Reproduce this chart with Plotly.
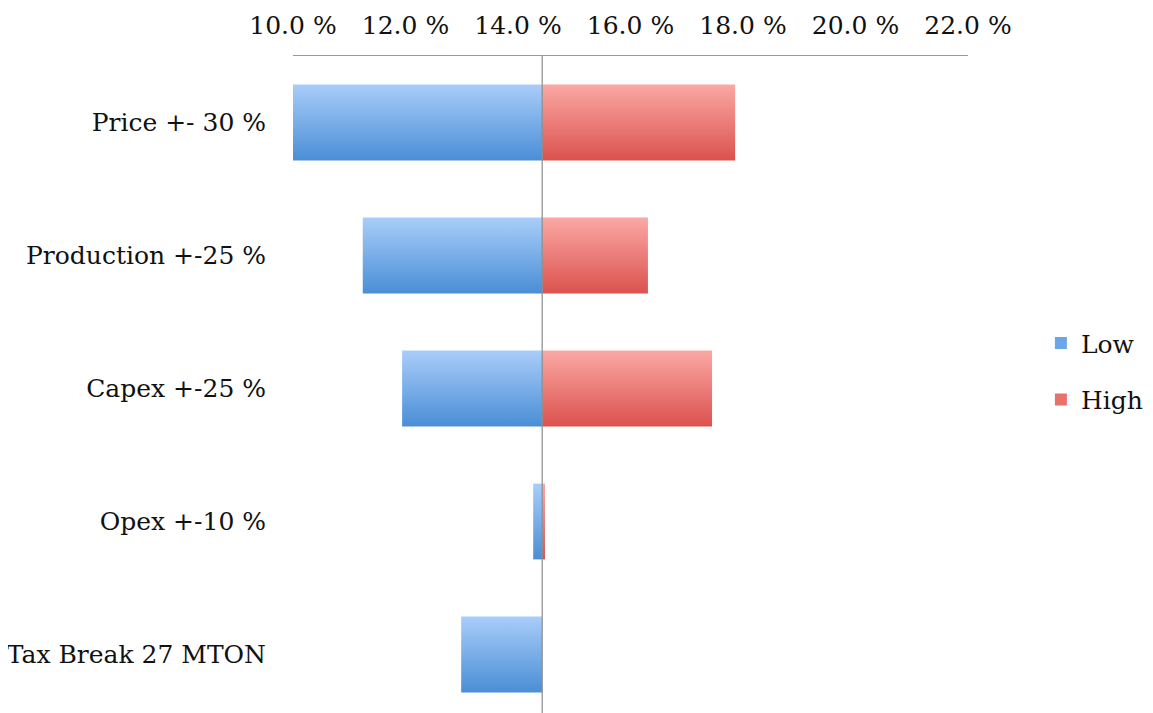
import plotly.graph_objects as go

# tornado data (IRR, %)
categories = ["Price +- 30 %", "Production +-25 %", "Capex +-25 %", "Opex +-10 %", "Tax Break 27 MTON"]
base_case = 14.43
low_values = [10.0, 11.24, 11.94, 14.27, 12.99]
high_values = [17.86, 16.31, 17.45, 14.48, 14.43]
tick_values = [10, 12, 14, 16, 18, 20, 22]
tick_labels = ["10.0 %", "12.0 %", "14.0 %", "16.0 %", "18.0 %", "20.0 %", "22.0 %"]

BLUE = ["#4a8ed6", "#a9cdf9"]   # bottom, top
RED = ["#db524e", "#fba8a5"]
HALF = 0.285

fig = go.Figure()


def add_bar(i, x0, x1, colors):
    if abs(x1 - x0) < 1e-9:
        return
    fig.add_trace(go.Scatter(
        x=[x0, x1, x1, x0, x0],
        y=[i - HALF, i - HALF, i + HALF, i + HALF, i - HALF],
        mode="lines", fill="toself", line=dict(width=0),
        fillgradient=dict(type="vertical", colorscale=[[0, colors[0]], [1, colors[1]]]),
        showlegend=False, hoverinfo="skip"))


for i, cat in enumerate(categories):
    add_bar(i, low_values[i], base_case, BLUE)
    add_bar(i, base_case, high_values[i], RED)

# legend swatches
fig.add_trace(go.Scatter(x=[None], y=[None], mode="markers", name="Low",
                         marker=dict(symbol="square", size=12, color="#6aa6e8"),
                         legendgroup="low"))
fig.add_trace(go.Scatter(x=[None], y=[None], mode="markers", name="High",
                         marker=dict(symbol="square", size=12, color="#e8716d"),
                         legendgroup="high"))

fig.add_vline(x=base_case, line=dict(color="#8c8c8c", width=1.2))

fig.update_layout(
    width=1153, height=713,
    margin=dict(l=285, r=193, t=48, b=0),
    plot_bgcolor="white", paper_bgcolor="white",
    font=dict(family="DejaVu Serif", size=25, color="#111111"),
    legend=dict(x=1.108, y=0.526, xanchor="left", yanchor="middle",
                traceorder="grouped", tracegroupgap=21, itemwidth=30),
)
fig.update_xaxes(range=[10, 22], side="top", tickvals=tick_values, ticktext=tick_labels,
                 showgrid=False, zeroline=False, showline=True, linecolor="#999999",
                 linewidth=1.2, ticks="", ticklabelstandoff=11)
fig.update_yaxes(range=[4.5, -0.5], tickvals=list(range(len(categories))), ticktext=categories,
                 showgrid=False, zeroline=False, showline=False, ticks="", ticklabelstandoff=26)

fig.write_html("out.html")
